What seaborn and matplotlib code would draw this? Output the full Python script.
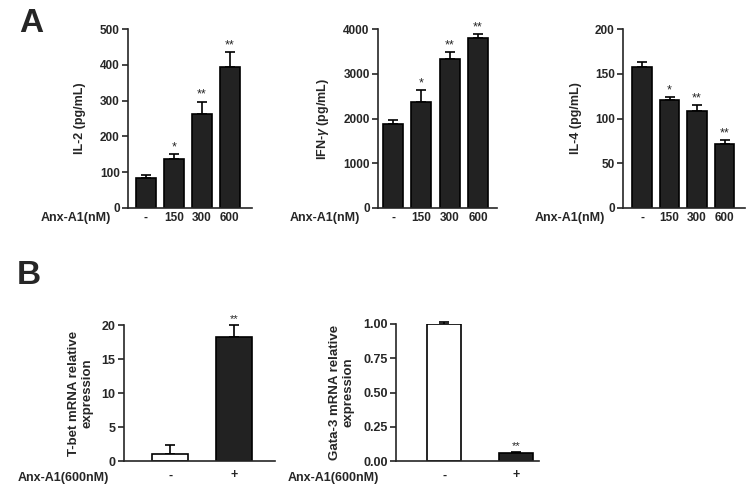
import numpy as np
import pandas as pd
import seaborn as sns
import matplotlib.pyplot as plt

# panel A data
doses = ["-", "150", "300", "600"]
il2 = [85, 138, 262, 393]
il2_err = [8, 13, 35, 43]
ifng = [1880, 2370, 3320, 3800]
ifng_err = [90, 270, 160, 80]
il4 = [158, 121, 108, 72]
il4_err = [5, 3, 7, 4]
stars_a = ["", "*", "**", "**"]

# panel B data
treat = ["-", "+"]
tbet = [1.0, 18.3]
tbet_err = [1.4, 1.7]
gata3 = [1.0, 0.06]
gata3_err = [0.012, 0.006]
stars_b = ["", "**"]

sns.set_style("ticks")
plt.rcParams["font.family"] = ["Liberation Sans", "DejaVu Sans"]
plt.rcParams["mathtext.fontset"] = "custom"
plt.rcParams["mathtext.it"] = "Liberation Sans:italic:bold"

W, H = 750, 488
fig = plt.figure(figsize=(7.5, 4.88), dpi=100)


def box(x0, y0, x1, y1):
    return [x0 / W, 1 - y1 / H, (x1 - x0) / W, (y1 - y0) / H]


def panel(rect, cats, vals, errs, stars, ylim, yticks, ylabel, xlim, width,
          colors, tick_fs, lab_fs, star_fs, yfmt, lpad, xpad):
    ax = fig.add_axes(rect)
    df = pd.DataFrame({"cat": cats, "val": vals})
    sns.barplot(data=df, x="cat", y="val", hue="cat", palette=colors, legend=False,
                width=width, edgecolor="black", linewidth=1.2, ax=ax, zorder=2)
    x = np.arange(len(cats))
    eb = ax.errorbar(x, vals, yerr=[np.zeros(len(vals)), errs], fmt="none",
                     ecolor="black", elinewidth=1.2, capsize=3.5, capthick=1.2, zorder=1)
    for part in eb.lines:
        for art in (part if isinstance(part, tuple) else [part]):
            if art is not None:
                art.set_clip_on(False)
    for i, s in enumerate(stars):
        if s:
            ax.text(x[i], vals[i] + errs[i] + (ylim[1] - ylim[0]) * 0.005, s,
                    ha="center", va="bottom", fontsize=star_fs)
    ax.set_ylim(*ylim)
    ax.set_xlim(*xlim)
    ax.set_yticks(yticks)
    ax.set_yticklabels([yfmt(v) for v in yticks], fontsize=tick_fs, fontweight="bold")
    ax.set_xticks(x)
    ax.set_xticklabels(cats, fontsize=tick_fs, fontweight="bold")
    ax.tick_params(axis="x", length=0, pad=xpad)
    ax.tick_params(axis="y", length=4, width=1.2, pad=2)
    ax.set_xlabel("")
    ax.set_ylabel(ylabel, fontsize=lab_fs, fontweight="bold", labelpad=lpad)
    sns.despine(ax=ax)
    for sp in ["left", "bottom"]:
        ax.spines[sp].set_linewidth(1.2)
    return ax


dark = "#222222"
a_cols = [dark] * 4
fa = lambda v: f"{v:g}"

panel(box(128, 29, 252, 208), doses, il2, il2_err, stars_a, (0, 500),
      [0, 100, 200, 300, 400, 500], "IL-2 (pg/mL)", (-0.64, 3.79), 0.7,
      a_cols, 8.5, 9, 9, fa, 10, 3)
panel(box(378, 29, 497, 208), doses, ifng, ifng_err, stars_a, (0, 4000),
      [0, 1000, 2000, 3000, 4000], "IFN-$\\gamma$ (pg/mL)", (-0.53, 3.67), 0.7,
      a_cols, 8.5, 9, 9, fa, 9, 3)
panel(box(623, 29, 745, 208), doses, il4, il4_err, stars_a, (0, 200),
      [0, 50, 100, 150, 200], "IL-4 (pg/mL)", (-0.69, 3.74), 0.7,
      a_cols, 8.5, 9, 9, fa, 9, 3)

b_cols = ["white", dark]
panel(box(124, 325, 275, 461), treat, tbet, tbet_err, stars_b, (0, 20),
      [0, 5, 10, 15, 20], "T-bet mRNA relative\nexpression", (-0.72, 1.64), 0.55,
      b_cols, 9, 9.5, 8, fa, 6, 6)
panel(box(396, 324, 539, 461), treat, gata3, gata3_err, stars_b, (0, 1.0),
      [0, 0.25, 0.5, 0.75, 1.0], "Gata-3 mRNA relative\nexpression", (-0.67, 1.32), 0.47,
      b_cols, 9, 9.5, 8, lambda v: f"{v:.2f}", 6, 6)

for xp in [41, 290, 535]:
    fig.text(xp / W, 1 - 218 / H, "Anx-A1(nM)", fontsize=9, fontweight="bold",
             ha="left", va="center")
for xp in [18, 288]:
    fig.text(xp / W, 1 - 478 / H, "Anx-A1(600nM)", fontsize=9, fontweight="bold",
             ha="left", va="center")

fig.text(19 / W, 1 - 23 / H, "A", fontsize=24, fontweight="bold", va="center")
fig.text(17 / W, 1 - 275 / H, "B", fontsize=24, fontweight="bold", va="center")

fig.savefig("out.png", dpi=100)
